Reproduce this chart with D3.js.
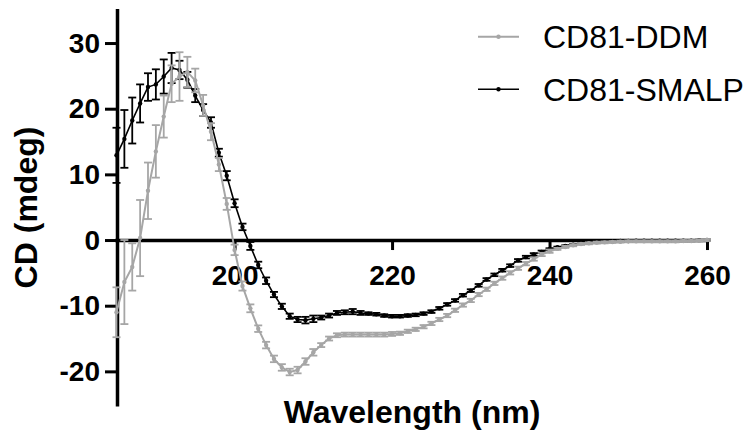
<!DOCTYPE html>
<html>
<head>
<meta charset="utf-8">
<script src="https://cdn.jsdelivr.net/npm/d3@7"></script>
<style>
  body { margin: 0; background: #fff; }
  svg { display: block; }
  text { font-family: "Liberation Sans", Arial, sans-serif; }
</style>
</head>
<body>
<svg id="chart" width="749" height="436"></svg>
<script>
// wavelength grid (nm)
var wavelength = [185,186,187,188,189,190,191,192,193,194,195,196,197,198,199,200,
  201,202,203,204,205,206,207,208,209,210,211,212,213,214,215,216,217,218,219,220,
  221,222,223,224,225,226,227,228,229,230,231,232,233,234,235,236,237,238,239,240,
  241,242,243,244,245,246,247,248,249,250,251,252,253,254,255,256,257,258,259,260];

// CD81-DDM mean and error (mdeg)
var ddmMean = [-11.0,-6.4,-4.1,0.3,7.5,13.5,18.8,23.8,24.9,25.6,24.3,20.5,16.5,11.5,5.5,-1.5,
  -7.0,-10.4,-13.5,-16.0,-18.1,-19.4,-20.1,-19.8,-18.5,-17.1,-16.0,-15.0,-14.5,-14.4,-14.4,-14.4,-14.4,-14.4,-14.4,-14.3,
  -14.2,-13.9,-13.6,-13.2,-12.7,-12.1,-11.5,-10.7,-9.9,-9.2,-8.3,-7.5,-6.6,-5.8,-5.0,-4.3,-3.6,-2.9,-2.2,-1.7,
  -1.35,-1.05,-0.8,-0.6,-0.5,-0.4,-0.35,-0.3,-0.25,-0.2,-0.2,-0.2,-0.2,-0.2,-0.2,-0.2,-0.15,-0.15,-0.1,0.0];
var ddmErr = [3.8,6.4,3.6,5.8,4.3,4.0,3.2,2.8,3.7,2.3,1.8,1.6,1.3,1.0,0.9,0.8,
  0.7,0.6,0.5,0.5,0.5,0.5,0.5,0.5,0.5,0.5,0.3,0.3,0.3,0.3,0.3,0.3,0.3,0.3,0.3,0.3,
  0.25,0.25,0.25,0.25,0.25,0.25,0.25,0.25,0.25,0.25,0.25,0.25,0.25,0.25,0.25,0.25,0.25,0.25,0.25,0.25,
  0.15,0.15,0.15,0.15,0.15,0.15,0.15,0.15,0.15,0.15,0.15,0.15,0.15,0.15,0.15,0.15,0.15,0.15,0.15,0.15];

// CD81-SMALP mean and error (mdeg)
var smalpMean = [12.9,15.4,18.2,20.8,23.3,23.7,24.9,26.2,25.9,24.4,22.0,19.8,17.9,13.3,9.8,5.6,
  2.0,-0.9,-3.8,-6.2,-8.3,-10.1,-11.6,-12.1,-12.2,-12.0,-11.8,-11.5,-11.1,-11.0,-10.9,-11.1,-11.2,-11.3,-11.5,-11.6,
  -11.6,-11.5,-11.4,-11.2,-10.9,-10.4,-9.8,-9.2,-8.4,-7.7,-6.9,-6.0,-5.3,-4.6,-3.9,-3.1,-2.6,-2.2,-1.8,-1.4,
  -1.1,-0.9,-0.7,-0.5,-0.4,-0.3,-0.25,-0.2,-0.15,-0.15,-0.1,-0.1,-0.1,-0.1,-0.1,-0.1,-0.1,-0.1,-0.05,0.0];
var smalpErr = [4.2,4.4,3.5,2.9,2.1,2.3,2.6,2.3,1.4,1.2,1.0,0.9,0.8,0.6,0.7,0.6,
  0.5,0.6,0.5,0.5,0.4,0.4,0.4,0.4,0.5,0.5,0.3,0.3,0.3,0.3,0.4,0.3,0.2,0.2,0.2,0.2,
  0.2,0.2,0.2,0.2,0.2,0.2,0.2,0.2,0.2,0.2,0.2,0.2,0.2,0.2,0.2,0.2,0.2,0.2,0.2,0.15,
  0.1,0.1,0.1,0.1,0.1,0.1,0.1,0.1,0.1,0.1,0.1,0.1,0.1,0.1,0.1,0.1,0.1,0.1,0.1,0.1];

var xTicks = [200, 220, 240, 260];
var yTicks = [-20, -10, 0, 10, 20, 30];
var seriesNames = ["CD81-DDM", "CD81-SMALP"];
var seriesColors = ["#a6a6a6", "#000000"];

var svg = d3.select("#chart");

var x = d3.scaleLinear().domain([185, 260]).range([116.5, 707]);
var y = d3.scaleLinear().domain([-25, 35]).range([404.2, 10.2]);

// axes (plain hyphen for negatives, like the original)
var plain = function(d) { return String(d); };
var yAxis = svg.append("g")
    .attr("transform", "translate(117,0)")
    .call(d3.axisLeft(y).tickValues(yTicks).tickFormat(plain).tickSize(12).tickSizeOuter(0).tickPadding(5));
var xAxis = svg.append("g")
    .attr("transform", "translate(0," + y(0) + ")")
    .call(d3.axisBottom(x).tickValues(xTicks).tickFormat(plain).tickSize(10).tickSizeOuter(0));

[yAxis, xAxis].forEach(function(ax) {
    ax.select(".domain").attr("stroke", "#000").attr("stroke-width", 3.5).attr("stroke-linecap", "square");
    ax.selectAll(".tick line").attr("stroke", "#000").attr("stroke-width", 3);
    ax.selectAll(".tick text")
        .attr("fill", "#000")
        .style("font-size", "28px")
        .style("font-weight", "bold")
        .style("font-family", "'Liberation Sans', Arial, sans-serif");
});
xAxis.selectAll(".tick text").attr("y", 45).attr("dy", 0);

// series
function drawSeries(mean, err, color, lw) {
    var pts = wavelength.map(function(w, i) { return { w: w, m: mean[i], e: err[i] }; });
    var g = svg.append("g");
    g.append("path")
        .datum(pts)
        .attr("fill", "none")
        .attr("stroke", color)
        .attr("stroke-width", lw)
        .attr("d", d3.line().x(function(d) { return x(d.w); }).y(function(d) { return y(d.m); }));
    var eb = g.selectAll(".eb").data(pts).enter().append("g").attr("class", "eb")
        .attr("stroke", color).attr("stroke-width", 1.8);
    eb.append("line")
        .attr("x1", function(d) { return x(d.w); }).attr("x2", function(d) { return x(d.w); })
        .attr("y1", function(d) { return y(d.m - d.e); }).attr("y2", function(d) { return y(d.m + d.e); });
    eb.append("line")
        .attr("x1", function(d) { return x(d.w) - 4; }).attr("x2", function(d) { return x(d.w) + 4; })
        .attr("y1", function(d) { return y(d.m + d.e); }).attr("y2", function(d) { return y(d.m + d.e); });
    eb.append("line")
        .attr("x1", function(d) { return x(d.w) - 4; }).attr("x2", function(d) { return x(d.w) + 4; })
        .attr("y1", function(d) { return y(d.m - d.e); }).attr("y2", function(d) { return y(d.m - d.e); });
    g.selectAll("circle").data(pts).enter().append("circle")
        .attr("cx", function(d) { return x(d.w); })
        .attr("cy", function(d) { return y(d.m); })
        .attr("r", 2.2)
        .attr("fill", color);
}

drawSeries(smalpMean, smalpErr, seriesColors[1], 1.6);
drawSeries(ddmMean, ddmErr, seriesColors[0], 2);

// axis titles
svg.append("text")
    .attr("transform", "translate(37,207.5) rotate(-90)")
    .attr("text-anchor", "middle")
    .style("font-size", "32px").style("font-weight", "bold")
    .text("CD (mdeg)");
svg.append("text")
    .attr("x", 412).attr("y", 423)
    .attr("text-anchor", "middle")
    .style("font-size", "32px").style("font-weight", "bold")
    .text("Wavelength (nm)");

// legend
var legendY = [36.7, 89.3];
seriesNames.forEach(function(name, i) {
    var lg = svg.append("g");
    lg.append("line").attr("x1", 478).attr("x2", 519).attr("y1", legendY[i]).attr("y2", legendY[i])
        .attr("stroke", seriesColors[i]).attr("stroke-width", i == 0 ? 2 : 1.6);
    lg.append("circle").attr("cx", 498.5).attr("cy", legendY[i]).attr("r", 2.2).attr("fill", seriesColors[i]);
    lg.append("text").attr("x", 543).attr("y", legendY[i] + 11.5)
        .style("font-size", "32px").attr("fill", "#000")
        .text(name);
});
</script>
</body>
</html>
